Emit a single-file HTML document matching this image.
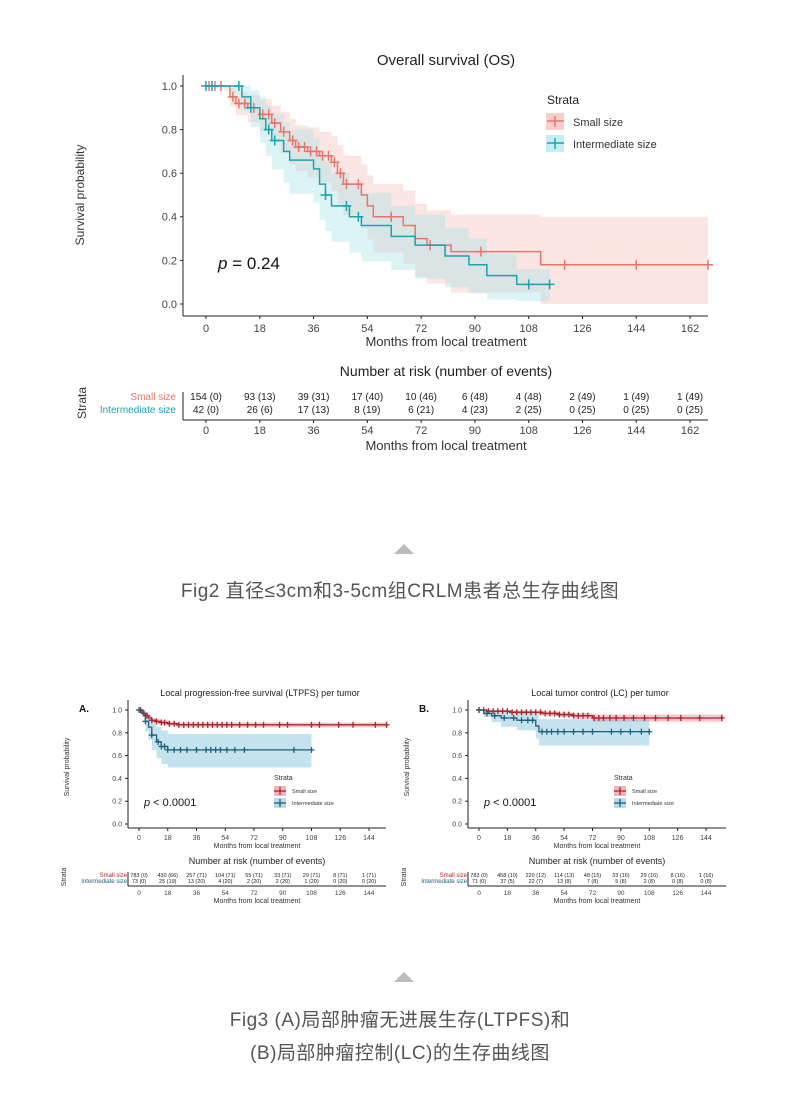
<!DOCTYPE html>
<html><head><meta charset="utf-8">
<style>
body{margin:0;background:#fff;width:800px;height:1104px;overflow:hidden;position:relative;font-family:"Liberation Sans","Noto Sans CJK SC",sans-serif}
.cap{position:absolute;left:0;width:800px;text-align:center;color:#555;font-size:19px;letter-spacing:0.5px}
.tri{position:absolute;width:0;height:0;border-left:10px solid transparent;border-right:10px solid transparent;border-bottom:10px solid #bbb}
svg{position:absolute;left:0;top:0}
</style></head><body>
<svg id="s" width="800" height="1104" font-family="Liberation Sans, sans-serif"></svg>
<div class="tri" style="left:394px;top:544px"></div>
<div class="cap" style="top:576px">Fig2 直径≤3cm和3-5cm组CRLM患者总生存曲线图</div>
<div class="tri" style="left:394px;top:972px"></div>
<div class="cap" style="top:1005px">Fig3 (A)局部肿瘤无进展生存(LTPFS)和</div>
<div class="cap" style="top:1038px">(B)局部肿瘤控制(LC)的生存曲线图</div>
<script>
var o='';
function T(x,y,t,sz,col,anc,extra){o+='<text x="'+x+'" y="'+y+'" font-size="'+sz+'" fill="'+(col||'#222')+'" text-anchor="'+(anc||'middle')+'" '+(extra||'')+'>'+t+'</text>';}
function L(x1,y1,x2,y2,c,w){o+='<line x1="'+x1+'" y1="'+y1+'" x2="'+x2+'" y2="'+y2+'" stroke="'+c+'" stroke-width="'+(w||1)+'"/>';}
function chart(P){
 var X=function(m){return P.x0+m*P.kx}, Y=function(v){return P.y0-v*P.ky};
 P.series.forEach(function(s){
  var pts=s.p, up='',lo='';
  for(var i=0;i<pts.length;i++){var m=pts[i][0],v=pts[i][1],w=pts[i][2]!==undefined?pts[i][2]:s.w,n=i+1<pts.length?pts[i+1][0]:m;
   up+=(i?'L':'M')+X(m)+','+Y(Math.min(1,v+w))+'L'+X(n)+','+Y(Math.min(1,v+w));
   lo='L'+X(n)+','+Y(Math.max(0,v-w*1.1))+'L'+X(m)+','+Y(Math.max(0,v-w*1.1))+lo;}
  o+='<path d="'+up+lo+'Z" fill="'+s.band+'" opacity="'+(s.op||0.35)+'"/>';
 });
 P.series.forEach(function(s){
  var pts=s.p,d='';
  for(var i=0;i<pts.length;i++){var m=pts[i][0],v=pts[i][1],n=i+1<pts.length?pts[i+1][0]:m;
   d+=(i?'L':'M')+X(m)+','+Y(v)+'L'+X(n)+','+Y(v);}
  o+='<path d="'+d+'" fill="none" stroke="'+s.c+'" stroke-width="'+P.lw+'"/>';
  s.cens.forEach(function(m){var v=0;for(var i=0;i<pts.length;i++)if(pts[i][0]<=m)v=pts[i][1];
   L(X(m)-P.cs,Y(v),X(m)+P.cs,Y(v),s.c,P.lw);L(X(m),Y(v)-P.cs,X(m),Y(v)+P.cs,s.c,P.lw);});
 });
 L(P.ax,Y(0)+P.pad,P.ax,P.ytop,'#222',1);L(P.ax,Y(0)+P.pad,P.xr,Y(0)+P.pad,'#222',1);
 for(var v=0;v<=1.001;v+=0.2){L(P.ax-3,Y(v),P.ax,Y(v),'#222');T(P.ax-6,Y(v)+P.fs*0.35,v.toFixed(1),P.fs,'#444','end');}
 P.ticks.forEach(function(m){L(X(m),Y(0)+P.pad,X(m),Y(0)+P.pad+3,'#222');T(X(m),Y(0)+P.pad+P.fs+5,m,P.fs,'#444');});
 return {X:X,Y:Y};
}
var R='#e8756b',B='#1aa3b0';
// Top chart
var t=chart({x0:206,kx:2.988,y0:304,ky:218,ax:183,ytop:75,xr:708,pad:12,lw:1.5,cs:5,fs:11,ticks:[0,18,36,54,72,90,108,126,144,162],
series:[
{c:R,band:'#f7b6b0',w:0.1,p:[[0,1,0],[6,1,0.02],[8,0.95,0.04],[10,0.92,0.05],[14,0.9,0.06],[18,0.87,0.07],[22,0.83,0.08],[25,0.79,0.09],[28,0.75,0.1],[30,0.72,0.1],[34,0.7,0.11],[38,0.68,0.11],[42,0.65,0.12],[44,0.6,0.13],[46,0.55,0.13],[52,0.5,0.14],[54,0.45,0.14],[56,0.4,0.15],[66,0.36,0.16],[70,0.3,0.16],[74,0.27,0.16],[82,0.24,0.17],[112,0.18,0.22],[168,0.18,0.22]],cens:[1,3,5,9,11,13,16,19,21,23,26,29,31,33,35,37,39,41,43,45,47,51,62,75,92,120,144,168]},
{c:B,band:'#9fe0e6',w:0.1,p:[[0,1,0],[9,1,0.03],[12,0.95,0.06],[15,0.9,0.08],[18,0.85,0.1],[20,0.8,0.11],[22,0.75,0.12],[26,0.7,0.13],[28,0.66,0.14],[36,0.62,0.14],[38,0.55,0.15],[40,0.5,0.15],[42,0.45,0.15],[48,0.4,0.15],[52,0.36,0.15],[62,0.31,0.14],[70,0.27,0.14],[80,0.22,0.13],[88,0.18,0.12],[94,0.13,0.1],[104,0.09,0.07],[115,0.09,0.07]],cens:[0,2,11,15,21,23,40,47,51,108,115]}
]});
T(446,65,'Overall survival (OS)',15,'#222');
T(84,195,'Survival probability',12,'#333','middle','transform="rotate(-90 84 195)"');
T(446,346,'Months from local treatment',13,'#333');
o+='<text x="218" y="269" font-size="17" fill="#111"><tspan font-style="italic">p</tspan> = 0.24</text>';
T(547,104,'Strata',12,'#222','start');
o+='<rect x="546" y="113" width="18" height="17" fill="#f9cfcb"/><rect x="546" y="135" width="18" height="17" fill="#c5eef2"/>';
L(547,121,564,121,R,1.5);L(555,116,555,127,R,1.5);L(547,143,564,143,B,1.5);L(555,138,555,149,B,1.5);
T(573,126,'Small size',11,'#333','start');T(573,148,'Intermediate size',11,'#333','start');
// risk table
T(446,376,'Number at risk (number of events)',14,'#222');
T(86,403,'Strata',12,'#333','middle','transform="rotate(-90 86 403)"');
T(176,400,'Small size',10,R,'end');T(176,413,'Intermediate size',10,B,'end');
L(183,392,183,420,'#222');L(183,420,708,420,'#222');
var rs=['154 (0)','93 (13)','39 (31)','17 (40)','10 (46)','6 (48)','4 (48)','2 (49)','1 (49)','1 (49)'];
var ri=['42 (0)','26 (6)','17 (13)','8 (19)','6 (21)','4 (23)','2 (25)','0 (25)','0 (25)','0 (25)'];
for(var i=0;i<10;i++){var x=206+i*18*2.988;T(x,400,rs[i],10,'#222');T(x,413,ri[i],10,'#222');L(x,420,x,423,'#222');T(x,434,i*18,11,'#444');}
T(446,450,'Months from local treatment',13,'#333');
// bottom panels
var DR='#b0232a',DB='#1f5f7a';
function panel(ox,title,lab,red,blue,rr,rb){
 var ax=ox+68,x0=ox+79,kx=(227+(ox>300?0:3))/144;
 chart({x0:x0,kx:kx,y0:824,ky:114,ax:ax,ytop:700,xr:ax+258,pad:4,lw:1.3,cs:3,fs:7,ticks:[0,18,36,54,72,90,108,126,144],series:[
  {c:DR,band:'#e58a90',op:0.45,w:0.02,p:red.p,cens:red.c},{c:DB,band:'#7fc0dc',op:0.45,w:0.1,p:blue.p,cens:blue.c}]});
 T(ox+200,696,title,9,'#222');T(ox+24,712,lab,10,'#111','middle','font-weight="bold"');
 T(ox+9,767,'Survival probability',7,'#333','middle','transform="rotate(-90 '+(ox+9)+' 767)"');
 T(ax+129,848,'Months from local treatment',7,'#333');
 o+='<text x="'+(ax+16)+'" y="806" font-size="11" fill="#111"><tspan font-style="italic">p</tspan> &lt; 0.0001</text>';
 T(ax+146,780,'Strata',7,'#333','start');
 o+='<rect x="'+(ax+146)+'" y="786" width="12" height="10" fill="#f0b5b8"/><rect x="'+(ax+146)+'" y="798" width="12" height="10" fill="#b5dcea"/>';
 L(ax+146,791,ax+158,791,DR,1.3);L(ax+152,787,ax+152,795,DR,1.3);L(ax+146,803,ax+158,803,DB,1.3);L(ax+152,799,ax+152,807,DB,1.3);
 T(ax+164,793,'Small size',5.5,'#333','start');T(ax+164,805,'Intermediate size',5.5,'#333','start');
 T(ax+129,864,'Number at risk (number of events)',9,'#222');
 T(ox+6,877,'Strata',7,'#333','middle','transform="rotate(-90 '+(ox+6)+' 877)"');
 T(ax-1,877,'Small size',6,DR,'end');T(ax-1,883,'Intermediate size',6,DB,'end');
 L(ax,872,ax,886,'#222');L(ax,886,ax+258,886,'#222');
 for(var i=0;i<9;i++){var x=x0+i*18*kx;T(x,877,rr[i],5.5,'#222');T(x,883,rb[i],5.5,'#222');T(x,895,i*18,6.5,'#444');}
 T(ax+129,903,'Months from local treatment',7,'#333');
}
panel(60,'Local progression-free survival (LTPFS) per tumor','A.',
 {p:[[0,1],[2,0.97],[4,0.95],[6,0.93],[8,0.91],[11,0.9],[14,0.89],[18,0.88],[24,0.87],[155,0.87]],c:[1,3,5,8,11,14,16,19,22,25,28,31,34,37,40,43,46,49,52,55,58,63,68,73,78,88,93,108,113,125,134,148,155]},
 {p:[[0,1,0],[2,0.97,0.03],[4,0.9,0.08],[6,0.85,0.1],[8,0.78,0.12],[11,0.72,0.13],[14,0.68,0.14],[18,0.65,0.14],[108,0.65,0.14]],c:[0,4,8,12,14,16,18,22,26,30,36,42,45,48,51,55,60,66,97,108]},
 ['783 (0)','430 (66)','257 (71)','104 (71)','55 (71)','33 (71)','29 (71)','8 (71)','1 (71)'],
 ['73 (0)','25 (19)','13 (20)','4 (20)','2 (20)','2 (20)','1 (20)','0 (20)','0 (20)']);
panel(400,'Local tumor control (LC) per tumor','B.',
 {p:[[0,1,0],[5,0.99,0.01],[20,0.98,0.015],[40,0.97,0.02],[50,0.96,0.02],[60,0.95,0.025],[72,0.93,0.03],[155,0.93,0.03]],c:[0,3,6,9,12,15,18,21,24,27,30,33,36,39,42,45,48,51,54,57,60,63,66,69,73,76,79,83,87,92,98,105,112,120,128,140,154]},
 {p:[[0,1,0],[3,0.97,0.03],[8,0.95,0.05],[14,0.93,0.07],[24,0.91,0.08],[36,0.86,0.1],[38,0.81,0.11],[108,0.81,0.11]],c:[0,5,10,16,22,27,31,34,40,43,46,50,54,60,66,72,84,90,96,103,108]},
 ['783 (0)','458 (10)','220 (12)','114 (13)','48 (15)','33 (16)','29 (16)','8 (16)','1 (16)'],
 ['71 (0)','37 (5)','22 (7)','13 (8)','7 (8)','5 (8)','2 (8)','0 (8)','0 (8)']);
document.getElementById('s').innerHTML=o;
</script>
</body></html>
